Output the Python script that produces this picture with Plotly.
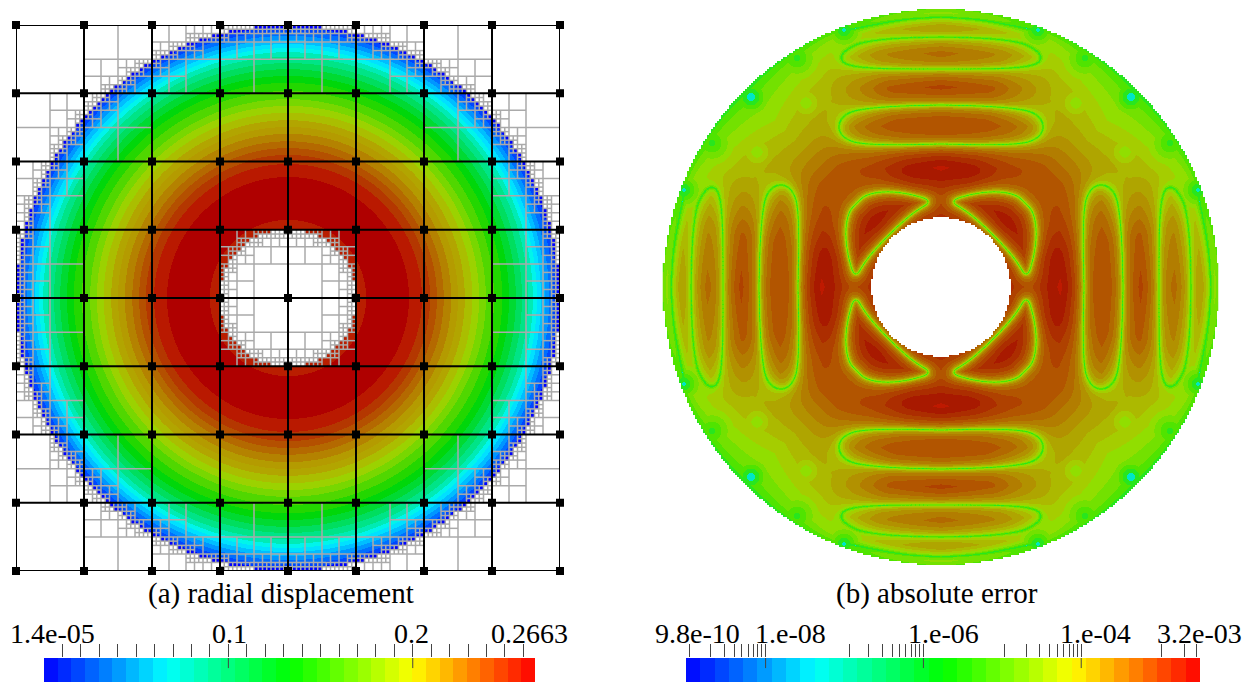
import numpy as np
import plotly.graph_objects as go

W, H = 1253, 682

# ---------- values ----------
GRID_LINES = [-4, -3, -2, -1, 0, 1, 2, 3, 4]
INNER_RADIUS, OUTER_RADIUS = 1.0, 4.0
MAX_REFINEMENT = 4

# (a) radial displacement: one entry per visible contour band, from the hole outwards
BAND_OUTER_R = [1.15, 1.78, 1.97, 2.09, 2.19, 2.29, 2.40, 2.50, 2.60, 2.71, 2.81, 2.91, 3.03,
                3.15, 3.25, 3.35, 3.44, 3.53, 3.60, 3.66, 3.72, 3.78, 3.84, 3.90, 3.96, 4.10]
BAND_DISPLACEMENT = [0.256, 0.2663, 0.246, 0.236, 0.226, 0.216, 0.206, 0.196, 0.186, 0.172, 0.158, 0.144, 0.130,
                     0.116, 0.102, 0.090, 0.078, 0.068, 0.058, 0.049, 0.041, 0.033, 0.025, 0.017, 0.009, 0.001]
BAND_COLOR = ["#b91e00", "#af0000", "#b91900", "#b43700", "#b45000", "#b46900", "#b48200", "#b49b00", "#b2a500",
              "#aabe00", "#9bd200", "#78d700", "#50d700", "#23d700", "#00d70a", "#00da32", "#00de5f", "#00e487",
              "#00ebb4", "#00f5eb", "#00e1ff", "#00beff", "#0096ff", "#006eff", "#0046ff", "#0000ff"]

# (b) absolute error: nodal curves of one octant (distance across the axis, distance along the axis), in px
NODAL_RIM_LINE = [(0, 270), (35, 268), (69, 262), (97, 256)]
NODAL_LOOP_OUTER = [(0, 250), (45, 249), (79, 245), (92, 239), (100, 232), (99, 225), (90, 221), (72, 219), (45, 218), (0, 218)]
NODAL_LOOP_INNER = [(0, 182), (45, 181), (79, 178), (94, 174), (102, 165), (102, 155), (94, 147), (79, 143), (45, 142), (0, 143)]
NODAL_HOLE_LOBE = [(52, 52), (44, 60), (27, 75), (8, 86), (30, 93), (56, 96), (76, 92), (84, 84)]
# low-error spots: across, along, level at the spot, rise per px
ERROR_SPOTS = [(190, 190, 0.0, 0.24), (144, 229, 1.5, 0.16), (135, 184, 4.0, 0.18), (97, 257, 0.5, 0.24)]
# envelope of the error level by radius (rows) and angle off the axis (columns)
ENV_RADIUS = [70, 90, 120, 160, 200, 235, 260, 278]
ENV_ANGLE = [0, 15, 30, 45]
ENV_LEVEL = [[14.0, 14.5, 15.0, 15.0],
             [13.0, 14.5, 14.8, 15.2],
             [15.6, 15.0, 13.5, 13.0],
             [12.5, 12.3, 11.5, 11.0],
             [13.0, 12.0, 8.0, 7.5],
             [11.0, 10.0, 6.5, 5.0],
             [9.5, 8.0, 4.5, 3.5],
             [7.5, 5.5, 3.5, 2.5]]
LEVEL_COLOR = ["#00e6c8", "#28e61e", "#50e400", "#73e100", "#91de00", "#a5cd00", "#acb900", "#afa500",
               "#b29100", "#b27d00", "#b26900", "#b25500", "#af4100", "#ac2d00", "#a81900", "#be1900"]

# colour bars
BAR_STOPS = ["#0000ff", "#00ffff", "#00ff00", "#ffff00", "#ff0000"]
BAR_A_RANGE = [1.4e-05, 0.2663]
BAR_A_TICKS = [0.01, 0.02, 0.03, 0.04, 0.05, 0.06, 0.07, 0.08, 0.09, 0.10, 0.11, 0.12, 0.13, 0.14, 0.15,
               0.16, 0.17, 0.18, 0.19, 0.20, 0.21, 0.22, 0.23, 0.24, 0.25, 0.26]
BAR_A_MAJOR = [0.1, 0.2]
BAR_A_LABELS = ["1.4e-05", "0.1", "0.2", "0.2663"]
BAR_A_LABEL_PX = [52, 229, 411, 529]
BAR_B_RANGE = [9.8e-10, 3.2e-03]
BAR_B_TICKS = [1.1e-9, 2e-9, 3e-9, 4e-9, 5e-9, 6e-9, 7e-9, 8e-9, 9e-9, 1e-8,
               1.14e-7, 2e-7, 3e-7, 4e-7, 5e-7, 6e-7, 7e-7, 8e-7, 9e-7, 1e-6,
               1.08e-5, 2e-5, 3e-5, 4e-5, 5e-5, 6e-5, 7e-5, 8e-5, 9e-5, 1e-4,
               1.05e-3, 2.03e-3, 2.86e-3]
BAR_B_MAJOR = [1e-8, 1e-6, 1e-4]
BAR_B_LABELS = ["9.8e-10", "1.e-08", "1.e-06", "1.e-04", "3.2e-03"]
BAR_B_LABEL_PX = [698, 791, 943, 1095, 1199]
BAR_BANDS = 36
CAPTIONS = ["(a) radial displacement", "(b) absolute error"]
CAPTION_PX = [281, 937]


# ---------- helpers ----------
def fx(px):
    return px / W


def fy(py):
    return 1 - py / H


def hex_rgb(c):
    return [int(c[i:i + 2], 16) for i in (1, 3, 5)]


def stepped(colors, edges):
    out = []
    for i, c in enumerate(colors):
        out += [[float(edges[i]), c], [float(edges[i + 1]), c]]
    return out


# ---------- (a) field ----------
n_a = 544
xa = (np.arange(n_a) + 0.5) / n_a * 8 - 4
XA, YA = np.meshgrid(xa, xa)
RA = np.hypot(XA, YA)
band = np.clip(np.searchsorted(np.array(BAND_OUTER_R), RA), 0, len(BAND_OUTER_R) - 1)
disp = np.array(BAND_DISPLACEMENT, dtype="float32")
ZA = disp[band]
# the field only exists on whole fine cells of the adaptive mesh
XC = (np.floor(XA * 16) + 0.5) / 16
YC = (np.floor(YA * 16) + 0.5) / 16
RC = np.hypot(XC, YC)
ZA[(RC < INNER_RADIUS) | (RC > OUTER_RADIUS)] = np.nan
order = np.argsort(BAND_DISPLACEMENT)
sv = np.array(BAND_DISPLACEMENT)[order]
mid = (sv[1:] + sv[:-1]) / 2
ea = np.concatenate([[0.0], mid / 0.27, [1.0]])
cs_a = stepped([BAND_COLOR[i] for i in order], ea)

# ---------- (a) adaptive mesh ----------
mesh_x, mesh_y = [], []


def is_cut(x0, y0, h, R):
    cx = [x0, x0 + h]
    cy = [y0, y0 + h]
    rmax = max(np.hypot(a, b) for a in cx for b in cy)
    nx = min(cx, key=abs) if x0 * (x0 + h) > 0 else 0.0
    ny = min(cy, key=abs) if y0 * (y0 + h) > 0 else 0.0
    rmin = np.hypot(nx, ny)
    return rmin < R < rmax


def refine(x0, y0, h, level):
    if level >= MAX_REFINEMENT:
        return
    if not (is_cut(x0, y0, h, INNER_RADIUS) or is_cut(x0, y0, h, OUTER_RADIUS)):
        return
    m = h / 2
    mesh_x.extend([x0, x0 + h, None, x0 + m, x0 + m, None])
    mesh_y.extend([y0 + m, y0 + m, None, y0, y0 + h, None])
    for dx in (0, m):
        for dy in (0, m):
            refine(x0 + dx, y0 + dy, m, level + 1)


for gx in GRID_LINES[:-1]:
    for gy in GRID_LINES[:-1]:
        refine(float(gx), float(gy), 1.0, 0)

grid_x, grid_y = [], []
for g in GRID_LINES:
    grid_x += [GRID_LINES[0], GRID_LINES[-1], None, g, g, None]
    grid_y += [g, g, None, GRID_LINES[0], GRID_LINES[-1], None]
node_x = [a for a in GRID_LINES for b in GRID_LINES]
node_y = [b for a in GRID_LINES for b in GRID_LINES]


# ---------- (b) field ----------
def smooth_samples(points):
    p = np.array(points, dtype=float)
    for _ in range(3):
        q = 0.75 * p[:-1] + 0.25 * p[1:]
        r = 0.25 * p[:-1] + 0.75 * p[1:]
        p = np.vstack([p[0], np.column_stack([q, r]).reshape(-1, 2), p[-1]])
    seg = np.hypot(*np.diff(p, axis=0).T)
    s = np.concatenate([[0], np.cumsum(seg)])
    t = np.arange(0, s[-1], 0.8)
    return np.column_stack([np.interp(t, s, p[:, 0]), np.interp(t, s, p[:, 1])])


curves = np.vstack([smooth_samples(c) for c in
                    (NODAL_RIM_LINE, NODAL_LOOP_OUTER, NODAL_LOOP_INNER, NODAL_HOLE_LOBE)])
RB_OUT, RB_IN = 278.0, 69.5
n_b = 556
xb = np.arange(n_b) + 0.5 - n_b / 2
qb = xb[xb > 0]
A, B = np.meshgrid(qb, qb)
U = np.minimum(A, B)
V = np.maximum(A, B)
half = A <= B
u = U[half]
v = V[half]
dist = np.full(u.shape, 1e9, dtype="float32")
for start in range(0, len(u), 4000):
    uu = u[start:start + 4000, None]
    vv = v[start:start + 4000, None]
    dist[start:start + 4000] = np.sqrt(((uu - curves[:, 0]) ** 2 + (vv - curves[:, 1]) ** 2).min(axis=1))
r = np.hypot(u, v)
theta = np.degrees(np.arctan2(u, v))
env_rows = np.array(ENV_LEVEL)
by_angle = np.array([np.interp(theta, ENV_ANGLE, row) for row in env_rows])
ri = np.clip(np.searchsorted(ENV_RADIUS, r) - 1, 0, len(ENV_RADIUS) - 2)
rl = np.array(ENV_RADIUS, dtype=float)
tt = np.clip((r - rl[ri]) / (rl[ri + 1] - rl[ri]), 0, 1)
idx = np.arange(len(r))
env = by_angle[ri, idx] * (1 - tt) + by_angle[ri + 1, idx] * tt
level = 1.0 + (env - 1.0) * (0.45 * (1 - np.exp(-dist / 1.2)) + 0.55 * (1 - np.exp(-dist / 8.0)))
level *= 0.5 + 0.5 * (1 - np.exp(-np.maximum(RB_OUT - r, 0) / 6.0))
for su, sv_, s0, gain in ERROR_SPOTS:
    level = np.minimum(level, s0 + gain * np.hypot(u - su, v - sv_))
level = np.clip(np.floor(level), 0, len(LEVEL_COLOR) - 1)
quad = np.zeros(A.shape, dtype="float32")
quad[half] = level
quad = np.where(half, quad, quad.T)
ZB = np.zeros((n_b, n_b), dtype="float32")
k = n_b // 2
ZB[k:, k:] = quad
ZB[k:, :k] = quad[:, ::-1]
ZB[:k, k:] = quad[::-1, :]
ZB[:k, :k] = quad[::-1, ::-1]
XB, YB = np.meshgrid(xb, xb)
XS = (np.floor(XB / 2) + 0.5) * 2
YS = (np.floor(YB / 2) + 0.5) * 2
RS = np.hypot(XS, YS)
ZB[(RS < RB_IN) | (RS > RB_OUT)] = np.nan
nl = len(LEVEL_COLOR)
cs_b = stepped(LEVEL_COLOR, np.linspace(0, 1, nl + 1))

# ---------- colour bars ----------
bar_rgb = []
stops = np.array([hex_rgb(c) for c in BAR_STOPS], dtype=float)
for i in range(BAR_BANDS):
    t = (i + 0.5) / BAR_BANDS * (len(stops) - 1)
    j = min(int(t), len(stops) - 2)
    c = stops[j] + (stops[j + 1] - stops[j]) * (t - j)
    bar_rgb.append("rgb(%d,%d,%d)" % tuple(c))
cs_bar = stepped(bar_rgb, np.linspace(0, 1, BAR_BANDS + 1))
bar_z = [list(range(BAR_BANDS))]
edges_a = np.linspace(BAR_A_RANGE[0], BAR_A_RANGE[1], BAR_BANDS + 1)
edges_b = np.geomspace(BAR_B_RANGE[0], BAR_B_RANGE[1], BAR_BANDS + 1)

fig = go.Figure()
fig.add_trace(go.Heatmap(x=xa, y=xa, z=ZA, zmin=0, zmax=0.27, colorscale=cs_a, showscale=False,
                         xaxis="x", yaxis="y", hoverinfo="skip"))
fig.add_trace(go.Scatter(x=mesh_x, y=mesh_y, mode="lines", line=dict(color="#aaaaaa", width=1.5),
                         xaxis="x", yaxis="y", hoverinfo="skip", showlegend=False))
fig.add_trace(go.Scatter(x=grid_x, y=grid_y, mode="lines", line=dict(color="#000000", width=2),
                         xaxis="x", yaxis="y", hoverinfo="skip", showlegend=False))
fig.add_trace(go.Scatter(x=node_x, y=node_y, mode="markers",
                         marker=dict(symbol="square", size=8, color="#000000"), cliponaxis=False,
                         xaxis="x", yaxis="y", hoverinfo="skip", showlegend=False))
fig.add_trace(go.Heatmap(x=xb, y=xb, z=ZB, zmin=0, zmax=nl, colorscale=cs_b, showscale=False,
                         xaxis="x2", yaxis="y2", hoverinfo="skip"))
fig.add_trace(go.Heatmap(x=edges_a, y=[0, 1], z=bar_z, zmin=-0.5, zmax=BAR_BANDS - 0.5, colorscale=cs_bar,
                         showscale=False, xaxis="x3", yaxis="y3", hoverinfo="skip"))
fig.add_trace(go.Heatmap(x=edges_b, y=[0, 1], z=bar_z, zmin=-0.5, zmax=BAR_BANDS - 0.5, colorscale=cs_bar,
                         showscale=False, xaxis="x4", yaxis="y4", hoverinfo="skip"))
for major, xn, yn in ((BAR_A_MAJOR, "x3", "y3"), (BAR_B_MAJOR, "x4", "y4")):
    mx, my = [], []
    for val in major:
        mx += [val, val, None]
        my += [0.58, 1, None]
    fig.add_trace(go.Scatter(x=mx, y=my, mode="lines", line=dict(color="#444444", width=1),
                             xaxis=xn, yaxis=yn, hoverinfo="skip", showlegend=False))

hidden = dict(visible=False, showgrid=False, zeroline=False)
FONT = "Liberation Serif"
annos = []
for txt, px in zip(BAR_A_LABELS + BAR_B_LABELS, BAR_A_LABEL_PX + BAR_B_LABEL_PX):
    annos.append(dict(text=txt, x=fx(px), y=fy(633), xref="paper", yref="paper", xanchor="center",
                      yanchor="middle", showarrow=False, font=dict(family=FONT, size=28, color="#000000")))
for txt, px in zip(CAPTIONS, CAPTION_PX):
    annos.append(dict(text=txt, x=fx(px), y=fy(593), xref="paper", yref="paper", xanchor="center",
                      yanchor="middle", showarrow=False, font=dict(family=FONT, size=29, color="#000000")))

tick_axis = dict(showgrid=False, zeroline=False, showline=False, side="top", ticks="outside", ticklen=13,
                 tickwidth=1, tickcolor="#444444", showticklabels=False, tickmode="array")

fig.update_layout(
    width=W, height=H, margin=dict(l=0, r=0, t=0, b=0), paper_bgcolor="white", plot_bgcolor="white",
    showlegend=False, annotations=annos,
    xaxis=dict(domain=[fx(16), fx(560)], range=[-4, 4], **hidden),
    yaxis=dict(domain=[fy(571), fy(25)], range=[-4, 4], **hidden),
    xaxis2=dict(domain=[fx(662.5), fx(1218.5)], range=[-278, 278], **hidden),
    yaxis2=dict(domain=[fy(565), fy(9)], range=[-278, 278], **hidden),
    xaxis3=dict(domain=[fx(44), fx(535)], range=BAR_A_RANGE, tickvals=BAR_A_TICKS, anchor="y3", **tick_axis),
    yaxis3=dict(domain=[fy(682), fy(658)], range=[0, 1], anchor="x3", **hidden),
    xaxis4=dict(domain=[fx(686), fx(1200)], type="log", range=[float(np.log10(v_)) for v_ in BAR_B_RANGE],
                tickvals=BAR_B_TICKS, anchor="y4", **tick_axis),
    yaxis4=dict(domain=[fy(682), fy(658)], range=[0, 1], anchor="x4", **hidden),
)
fig.write_html("out.html", config=dict(displayModeBar=False),
               post_script="document.body.style.margin='0';document.body.style.overflow='hidden';")
